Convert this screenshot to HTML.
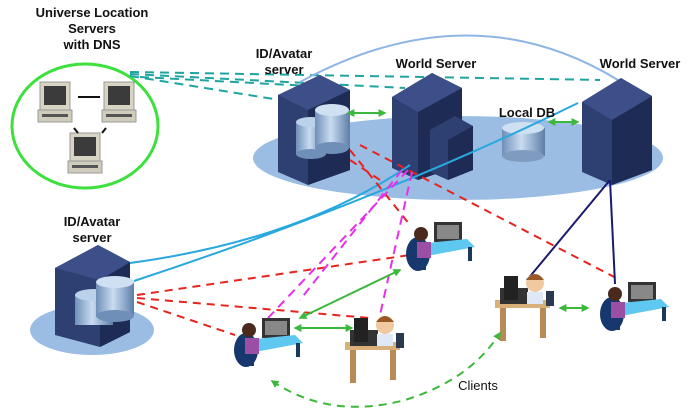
<!DOCTYPE html>
<html><head><style>html,body{margin:0;padding:0;background:#fff}svg{display:block}
text{font-family:"Liberation Sans",sans-serif;font-weight:bold;font-size:13px;fill:#111}</style></head>
<body>
<svg width="700" height="413" viewBox="0 0 700 413" xmlns="http://www.w3.org/2000/svg">
<defs>
<linearGradient id="cyl" x1="0" x2="1"><stop offset="0" stop-color="#6f8fb8"/><stop offset=".45" stop-color="#c9dcf0"/><stop offset="1" stop-color="#5d7ea8"/></linearGradient>
<marker id="ag" viewBox="0 0 10 10" refX="8" refY="5" markerWidth="4" markerHeight="4" orient="auto-start-reverse"><path d="M0 0L10 5L0 10z" fill="#3cb83c"/></marker>
<g id="pc">
<rect x="0" y="0" width="30" height="28" fill="#d8d4c4" stroke="#999"/>
<rect x="4" y="4" width="22" height="19" fill="#3b3b3b"/>
<rect x="-2" y="28" width="34" height="12" fill="#d0ccbc" stroke="#999"/>
<rect x="2" y="32" width="26" height="3" fill="#555"/>
</g>
</defs>
<!-- ellipses -->
<ellipse cx="458" cy="158" rx="205" ry="42" fill="#9bbde3"/>
<ellipse cx="92" cy="330" rx="62" ry="25" fill="#9bbde3"/>
<ellipse cx="85" cy="126" rx="73" ry="62" fill="none" stroke="#3de03d" stroke-width="3"/>
<!-- teal dashed -->
<g stroke="#1fa5a0" stroke-width="2" stroke-dasharray="9,6" fill="none">
<path d="M130 72 L600 80"/><path d="M130 74 L405 88"/><path d="M130 76 L280 100"/><path d="M140 77 L310 86"/>
</g>
<!-- blue arc -->
<path d="M300 82 Q470 -10 618 80" stroke="#8fb6e3" stroke-width="2" fill="none"/>
<!-- pcs -->
<use href="#pc" x="40" y="82"/><use href="#pc" x="104" y="82"/><use href="#pc" x="70" y="133"/>
<line x1="78" y1="97" x2="100" y2="97" stroke="#111" stroke-width="2"/>
<line x1="74" y1="128" x2="78" y2="133" stroke="#111" stroke-width="2"/><line x1="106" y1="128" x2="102" y2="133" stroke="#111" stroke-width="2"/>
<!-- top ID server -->
<g>
<polygon points="278,95 320,75 350,90 350,170 308,185 278,172" fill="#2e3f72"/>
<polygon points="308,110 350,90 350,170 308,185" fill="#1e2b55"/>
<polygon points="278,95 320,75 350,90 308,110" fill="#3c4f88"/>
<rect x="296" y="122" width="30" height="32" fill="url(#cyl)"/><ellipse cx="311" cy="122" rx="15" ry="5" fill="#bcd2ea"/><ellipse cx="311" cy="154" rx="15" ry="5" fill="#6f8fb8"/>
<rect x="315" y="110" width="35" height="38" fill="url(#cyl)"/><ellipse cx="332" cy="110" rx="17" ry="6" fill="#cfe0f2"/><ellipse cx="332" cy="148" rx="17" ry="6" fill="#6f8fb8"/>
</g>
<!-- world server 1 -->
<polygon points="392,97 432,73 462,88 462,165 418,180 392,168" fill="#2e3f72"/>
<polygon points="418,112 462,88 462,165 418,180" fill="#1e2b55"/>
<polygon points="392,97 432,73 462,88 418,112" fill="#3c4f88"/>
<polygon points="430,130 455,116 473,126 473,170 448,180 430,172" fill="#2e3f72"/>
<polygon points="448,140 473,126 473,170 448,180" fill="#1e2b55"/>
<!-- local DB -->
<rect x="502" y="128" width="43" height="28" fill="url(#cyl)"/><ellipse cx="523" cy="128" rx="21" ry="6" fill="#cfe0f2"/><ellipse cx="523" cy="156" rx="21" ry="6" fill="#7f9cc0"/>
<!-- world server 2 -->
<polygon points="582,102 621,78 652,96 652,170 612,185 582,172" fill="#2e3f72"/>
<polygon points="612,120 652,96 652,170 612,185" fill="#1e2b55"/>
<polygon points="582,102 621,78 652,96 612,120" fill="#3c4f88"/>
<!-- bottom-left server -->
<polygon points="55,268 98,245 130,262 130,332 100,347 55,335" fill="#2e3f72"/>
<polygon points="100,280 130,262 130,332 100,347" fill="#1e2b55"/>
<polygon points="55,268 98,245 130,262 100,280" fill="#3c4f88"/>
<rect x="75" y="295" width="38" height="30" fill="url(#cyl)"/><ellipse cx="94" cy="295" rx="19" ry="6" fill="#bcd2ea"/>
<rect x="96" y="282" width="38" height="34" fill="url(#cyl)"/><ellipse cx="115" cy="282" rx="19" ry="6" fill="#cfe0f2"/><ellipse cx="115" cy="316" rx="19" ry="6" fill="#6f8fb8"/>
<!-- blue lines -->
<path d="M130 263 Q300 240 410 165" stroke="#29a8e0" stroke-width="2" fill="none"/>
<path d="M134 281 Q380 200 578 103" stroke="#29a8e0" stroke-width="2" fill="none"/>
<!-- red dashed -->
<g stroke="#e8231e" stroke-width="2" stroke-dasharray="8,6" fill="none">
<path d="M137 295 L410 255"/><path d="M137 298 L370 318"/><path d="M137 302 L235 335"/>
<path d="M350 150 L410 225"/><path d="M360 145 L620 280"/><path d="M350 160 L380 180"/>
</g>
<!-- magenta dashed -->
<g stroke="#e830e8" stroke-width="2" stroke-dasharray="9,6" fill="none">
<path d="M408 170 L268 318"/><path d="M412 172 L380 315"/><path d="M402 170 L300 300"/>
</g>
<!-- navy lines -->
<line x1="610" y1="180" x2="527" y2="280" stroke="#1a1a6e" stroke-width="2"/>
<line x1="610" y1="180" x2="615" y2="284" stroke="#1a1a6e" stroke-width="2"/>
<!-- clients -->
<g id="girl">
<rect x="262" y="318" width="28" height="20" fill="#333"/><rect x="265" y="321" width="22" height="14" fill="#888"/>
<polygon points="245,340 295,335 303,343 255,352" fill="#5ec8f0"/>
<rect x="250" y="350" width="4" height="16" fill="#1a3a5a"/><rect x="296" y="343" width="4" height="14" fill="#1a3a5a"/>
<ellipse cx="246" cy="350" rx="12" ry="17" fill="#17386e"/>
<circle cx="249" cy="330" r="7" fill="#4a2a1c"/><rect x="245" y="338" width="14" height="16" fill="#9b4fa4"/>
</g>
<use href="#girl" x="172" y="-96"/><use href="#girl" x="366" y="-36"/>
<g id="boy">
<rect x="345" y="342" width="55" height="8" fill="#d9b07a"/><rect x="350" y="350" width="6" height="33" fill="#b88a55"/><rect x="390" y="350" width="6" height="30" fill="#b88a55"/>
<rect x="350" y="330" width="28" height="16" fill="#333"/><rect x="354" y="318" width="14" height="24" fill="#222"/>
<circle cx="385" cy="325" r="9" fill="#f1c9a0"/><path d="M376 322 Q385 310 394 322" fill="#9a5a28"/>
<rect x="377" y="334" width="16" height="12" fill="#dfe8f5"/>
<rect x="396" y="333" width="8" height="15" fill="#2a3850"/>
</g>
<use href="#boy" x="150" y="-42"/>
<!-- green arrows -->
<g stroke="#3cb83c" stroke-width="2" fill="none" marker-start="url(#ag)" marker-end="url(#ag)">
<line x1="300" y1="318" x2="400" y2="270"/><line x1="295" y1="328" x2="352" y2="328"/>
<line x1="560" y1="308" x2="588" y2="308"/><line x1="348" y1="113" x2="385" y2="113"/><line x1="549" y1="122" x2="578" y2="122"/>
<path d="M272 381 Q330 420 405 400 Q470 380 500 333" stroke-dasharray="8,6"/>
</g>
<!-- labels -->
<text x="92" y="17" text-anchor="middle">Universe Location</text>
<text x="92" y="33" text-anchor="middle">Servers</text>
<text x="92" y="49" text-anchor="middle">with DNS</text>
<text x="284" y="58" text-anchor="middle">ID/Avatar</text>
<text x="284" y="74" text-anchor="middle">server</text>
<text x="436" y="68" text-anchor="middle">World Server</text>
<text x="640" y="68" text-anchor="middle">World Server</text>
<text x="527" y="117" text-anchor="middle">Local DB</text>
<text x="92" y="226" text-anchor="middle">ID/Avatar</text>
<text x="92" y="242" text-anchor="middle">server</text>
<text x="478" y="390" text-anchor="middle" style="font-weight:normal">Clients</text>
</svg>
</body></html>
